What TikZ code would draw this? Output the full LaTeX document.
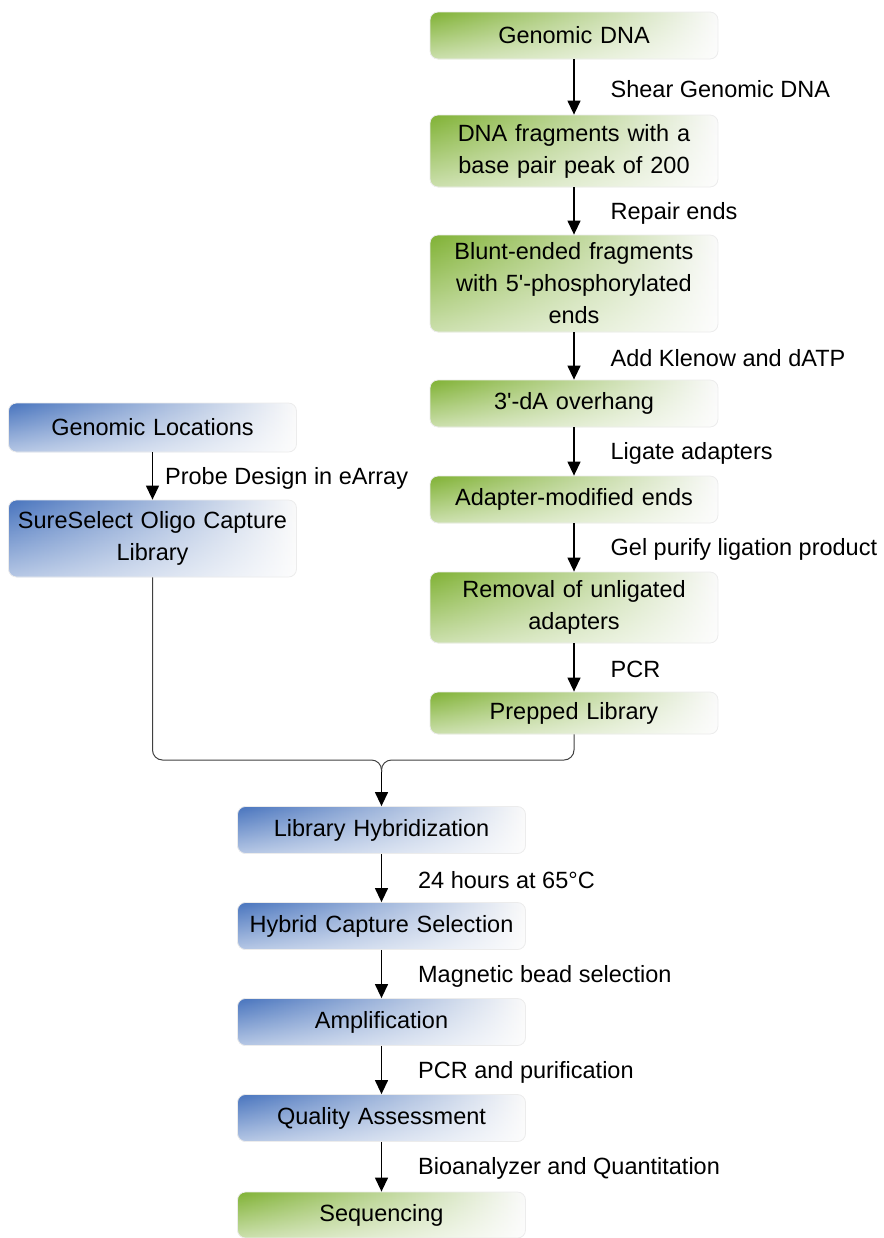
\documentclass[tikz,border=0pt]{standalone}
\usepackage{fontspec}
\setmainfont{Liberation Sans}
\usetikzlibrary{arrows.meta, fadings, positioning}
\definecolor{grn}{RGB}{128,178,52}
\definecolor{blu}{RGB}{72,116,190}

\begin{document}
\begin{tikzpicture}[x=0.5pt, y=-0.5pt,
    box/.style={rounded corners=4pt, draw=gray!15, minimum width=144pt, minimum height=23.5pt,
      text width=140pt, align=center, inner sep=1pt, font=\fontsize{11.75}{16}\selectfont,
      path picture={\fill[white, path fading=north, fill opacity=0.6]
        (path picture bounding box.south west) rectangle (path picture bounding box.north east);}},
    greenbox/.style={box, left color=grn, middle color=grn!68, right color=gray!4},
    bluebox/.style={box, left color=blu, middle color=blu!62, right color=gray!4},
    arr/.style={-{Triangle[width=6.5pt, length=7pt]}, line width=0.65pt},
    merge/.style={draw=black!75, line width=0.5pt, rounded corners=5pt},
    lbl/.style={right=18pt, yshift=-1pt, inner sep=0pt, font=\fontsize{11.75}{14}\selectfont}]
  \useasboundingbox (0,0) rectangle (884,1238);

  \node[greenbox] (gdna) at (574,35.5) {Genomic DNA};
  \node[greenbox, minimum height=36pt] (frag) at (574,151) {DNA fragments with a\\base pair peak of 200};
  \node[greenbox, minimum height=48.5pt] (blunt) at (574,283.5) {Blunt-ended fragments\\with 5\textquotesingle-phosphorylated\\ends};
  \node[greenbox] (overhang) at (574,403.5) {3\textquotesingle-dA overhang};
  \node[greenbox] (adapter) at (574,499.5) {Adapter-modified ends};
  \node[greenbox, minimum height=35.5pt] (removal) at (574,607.5) {Removal of unligated\\adapters};
  \node[greenbox, minimum height=21pt] (prepped) at (574,713) {Prepped Library};

  \node[bluebox, minimum height=24.5pt] (locations) at (152.5,427.5) {Genomic Locations};
  \node[bluebox, minimum height=38.5pt] (sureselect) at (152.5,538.5) {SureSelect Oligo Capture\\Library};

  \node[bluebox] (hybrid) at (381.5,830) {Library Hybridization};
  \node[bluebox] (capture) at (381.5,926) {Hybrid Capture Selection};
  \node[bluebox] (amplify) at (381.5,1022) {Amplification};
  \node[bluebox] (quality) at (381.5,1118) {Quality Assessment};
  \node[greenbox, minimum height=23pt] (sequencing) at (381.5,1215) {Sequencing};

  \draw[arr] (gdna) -- node[lbl] {Shear Genomic DNA} (frag);
  \draw[arr] (frag) -- node[lbl] {Repair ends} (blunt);
  \draw[arr] (blunt) -- node[lbl] {Add Klenow and dATP} (overhang);
  \draw[arr] (overhang) -- node[lbl] {Ligate adapters} (adapter);
  \draw[arr] (adapter) -- node[lbl] {Gel purify ligation product} (removal);
  \draw[arr] (removal) -- node[lbl] {PCR} (prepped);
  \draw[arr] (locations) -- node[lbl, right=6pt] {Probe Design in eArray} (sureselect);

  \coordinate (join) at (381.5,760);
  \coordinate (below) at (381.5,772);
  \draw[merge] (sureselect.south) |- (join) -- (below);
  \draw[merge] (prepped.south) |- (join) -- (below);
  \draw[arr] (below) -- (hybrid);

  \draw[arr] (hybrid) -- node[lbl] {24 hours at 65°C} (capture);
  \draw[arr] (capture) -- node[lbl] {Magnetic bead selection} (amplify);
  \draw[arr] (amplify) -- node[lbl] {PCR and purification} (quality);
  \draw[arr] (quality) -- node[lbl] {Bioanalyzer and Quantitation} (sequencing);
\end{tikzpicture}
\end{document}
